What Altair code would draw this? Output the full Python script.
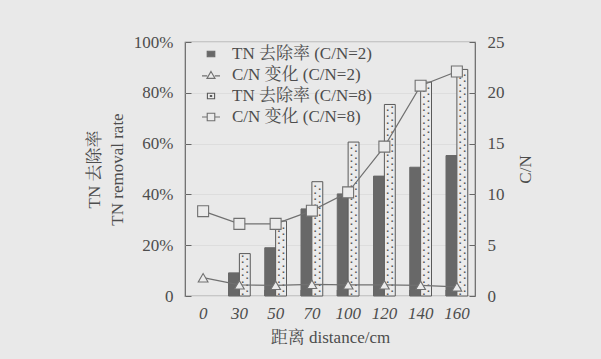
import altair as alt
import pandas as pd

# distance along the column (cm)
distances = ["0", "30", "50", "70", "100", "120", "140", "160"]
# TN removal rate (%) for the two C/N conditions
removal_cn2 = [0, 9.1, 19.0, 34.3, 40.2, 47.2, 50.7, 55.3]
removal_cn8 = [0, 16.7, 29.5, 45.0, 60.6, 75.4, 84.2, 89.2]
# C/N ratio along the column
ratio_cn2 = [1.8, 1.1, 1.05, 1.15, 1.1, 1.1, 1.05, 0.9]
ratio_cn8 = [8.35, 7.1, 7.1, 8.4, 10.2, 14.7, 20.7, 22.1]

legend_items = ["TN 去除率 (C/N=2)", "C/N 变化 (C/N=2)", "TN 去除率 (C/N=8)", "C/N 变化 (C/N=8)"]

FONT = "Liberation Serif, Noto Serif CJK SC, Noto Sans CJK SC, serif"
TEXT = "#4d4d4d"
DARK = "#686868"
LIGHT = "#ebebeb"
LINE = "#707070"
BG = "#e9e9e9"

bars = pd.DataFrame(
    {"dist": distances * 2,
     "series": ["C/N=2"] * 8 + ["C/N=8"] * 8,
     "rate": removal_cn2 + removal_cn8}
)
ratios = pd.DataFrame(
    {"dist": distances * 2,
     "series": ["C/N=2"] * 8 + ["C/N=8"] * 8,
     "ratio": ratio_cn2 + ratio_cn8}
)
legend_df = pd.DataFrame({"item": legend_items})

x_scale = alt.Scale(domain=distances, paddingInner=0.4, paddingOuter=0.2)
y_left = alt.Scale(domain=[0, 100], nice=False)
y_right = alt.Scale(domain=[0, 25], nice=False)

x_axis = alt.Axis(
    title="距离 distance/cm", ticks=False, domain=False, labelAngle=0,
    labelFontStyle="italic", labelPadding=9, titlePadding=8,
)

# grouped bars of TN removal rate
bar_layer = alt.Chart(bars).transform_filter("datum.rate > 0").mark_bar(
    strokeWidth=1
).encode(
    x=alt.X("dist:N", scale=x_scale, axis=x_axis, sort=distances),
    xOffset=alt.XOffset("series:N", sort=["C/N=2", "C/N=8"]),
    y=alt.Y("rate:Q", scale=y_left, axis=alt.Axis(
        title=["TN 去除率", "TN removal rate"], values=[0, 20, 40, 60, 80, 100],
        labelExpr="datum.value == 0 ? '0' : datum.value + '%'",
        orient="left", offset=-6, tickSize=6, domain=False, labelPadding=12,
        titlePadding=7, titleLineHeight=23,
    )),
    fill=alt.condition("datum.series == 'C/N=2'", alt.value(DARK), alt.value(LIGHT)),
    stroke=alt.condition("datum.series == 'C/N=2'", alt.value(DARK), alt.value("#5a5a5a")),
)

# stipple texture inside the C/N=8 bars, derived from each bar's height
def stipple(phase, dx):
    return alt.Chart(bars).transform_filter(
        "datum.series == 'C/N=8' && datum.rate > 0"
    ).transform_calculate(
        dot="sequence(0.7, datum.rate - 0.6, 1.25)"
    ).transform_flatten(["dot"]).transform_calculate(
        k="round((datum.dot - 0.7) / 1.25) % 2"
    ).transform_filter(f"datum.k == {phase}").mark_text(
        text="▪", fontSize=6, color="#505050", dx=dx, baseline="middle", align="center"
    ).encode(
        x=alt.X("dist:N", scale=x_scale, sort=distances),
        xOffset=alt.XOffset("series:N", sort=["C/N=2", "C/N=8"]),
        y=alt.Y("dot:Q", scale=y_left),
    )

# upward ticks on the bottom frame at the category boundaries
x_ticks = alt.Chart(pd.DataFrame({"dist": distances[1:]})).mark_rule(
    color="#666666", strokeWidth=1
).encode(
    x=alt.X("dist:N", scale=x_scale, sort=distances, bandPosition=0),
    y=alt.value(254),
    y2=alt.value(248),
)

left = alt.layer(bar_layer, stipple(0, -2.2), stipple(1, 2.2), x_ticks)

# C/N lines with hollow markers
lines = alt.Chart(ratios).mark_line(color=LINE, strokeWidth=1.2).encode(
    x=alt.X("dist:N", scale=x_scale, sort=distances),
    y=alt.Y("ratio:Q", scale=y_right, axis=alt.Axis(
        title="C/N", values=[0, 5, 10, 15, 20, 25], orient="right", offset=-6,
        tickSize=6, domain=False, labelPadding=12, titleAngle=-90,
        titleX=56, titleY=127, titleAlign="center", titleBaseline="middle",
    )),
    detail="series:N",
)
tri = alt.Chart(ratios).transform_filter("datum.series == 'C/N=2'").mark_point(
    shape="triangle-up", size=95, filled=True, fill=LIGHT, stroke=LINE, strokeWidth=1.1, opacity=1
).encode(
    x=alt.X("dist:N", scale=x_scale, sort=distances),
    y=alt.Y("ratio:Q", scale=y_right),
)
sq = alt.Chart(ratios).transform_filter("datum.series == 'C/N=8'").mark_point(
    shape="square", size=120, filled=True, fill=LIGHT, stroke=LINE, strokeWidth=1.1, opacity=1
).encode(
    x=alt.X("dist:N", scale=x_scale, sort=distances),
    y=alt.Y("ratio:Q", scale=y_right),
)

# legend-only layer (no rows drawn)
legend_shapes = [
    "M-0.42,-0.3H0.42V0.3H-0.42Z",
    "M-1,0.1H-0.42M0.42,0.1H1M0,-0.4L0.45,0.38L-0.45,0.38Z",
    "M-0.4,-0.3H0.4V0.3H-0.4ZM-0.07,-0.05H0.07V0.05H-0.07Z",
    "M-1,0H-0.42M0.42,0H1M-0.42,-0.42H0.42V0.42H-0.42Z",
]
legend_cfg = alt.Legend(
    title=None, orient="none", legendX=16, legendY=2, symbolSize=324,
    symbolStrokeWidth=1.1, labelOffset=11, rowPadding=3, labelFontSize=17,
    labelFont=FONT, labelColor=TEXT, padding=0,
)
legend_layer = alt.Chart(legend_df).transform_filter("false").mark_point(opacity=1).encode(
    x=alt.value(0),
    y=alt.value(0),
    shape=alt.Shape("item:N", scale=alt.Scale(domain=legend_items, range=legend_shapes), legend=legend_cfg),
    fill=alt.Fill("item:N", scale=alt.Scale(domain=legend_items, range=[DARK, LIGHT, LIGHT, LIGHT]), legend=legend_cfg),
    stroke=alt.Stroke("item:N", scale=alt.Scale(domain=legend_items, range=[DARK, LINE, "#5a5a5a", LINE]), legend=legend_cfg),
)

right = alt.layer(lines, tri, sq)

chart = alt.layer(left, right, legend_layer).resolve_scale(
    y="independent", x="shared"
).properties(
    width=290, height=254, autosize="none",
    padding={"left": 185, "top": 42, "right": 126, "bottom": 63},
    background=BG,
).configure_view(
    stroke="#666666", strokeWidth=1.2
).configure_axis(
    labelFont=FONT, titleFont=FONT, labelFontSize=17, titleFontSize=17,
    labelColor=TEXT, titleColor=TEXT, tickColor="#666666", tickWidth=1,
    titleFontWeight="normal",
)

chart.save("out.html", embed_options={"renderer": "svg", "actions": False})
